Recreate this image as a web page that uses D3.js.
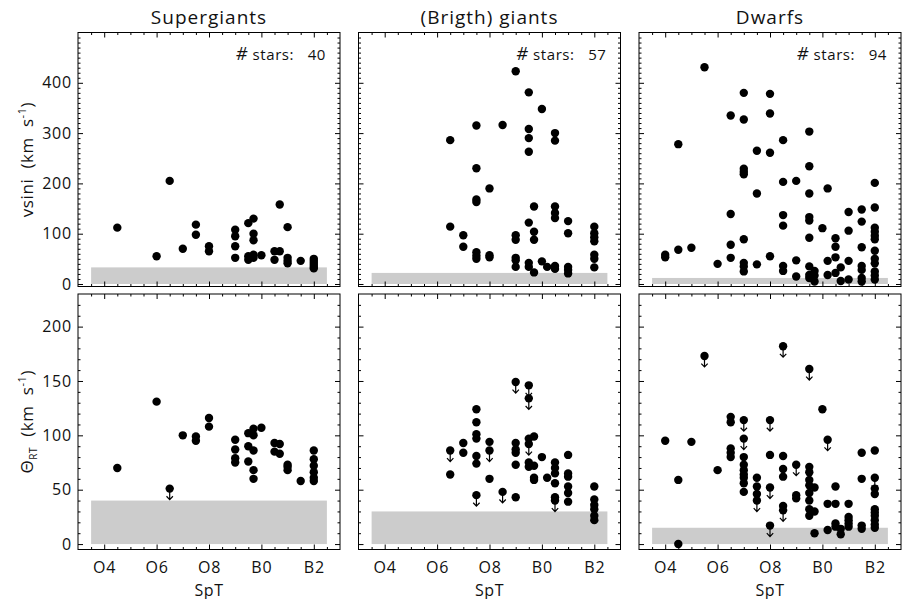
<!DOCTYPE html>
<html>
<head>
<meta charset="utf-8">
<script src="https://cdn.jsdelivr.net/npm/d3@7"></script>
<style>
body { margin: 0; background: #fff; }
text { font-family: "Open Sans", "DejaVu Sans", sans-serif; fill: #111; }
</style>
</head>
<body>
<svg id="chart" width="902" height="599"></svg>
<script>
// luminosity classes (columns)
const classes = ["Supergiants", "(Brigth) giants", "Dwarfs"]
const starCounts = [40, 57, 94]

// spectral type axis: O4=4 ... B0=10, B2=12
const spTicks = [4, 6, 8, 10, 12]
const spLabels = ["O4", "O6", "O8", "B0", "B2"]

// detection limits (grey bands)
const vsiniLimit = [33, 22, 12]
const thetaLimit = [40, 30, 15]

// [SpT, value] ; third entry 1 = upper limit
const sgVsini = [[4.5,112],[6,55],[6.5,205],[7,70],[7.5,118],[7.5,98],[8,75],[8,65],[9,108],[9,95],[9,75],[9,52],
  [9.5,121],[9.5,55],[9.5,48],[9.7,130],[9.7,100],[9.7,87],[9.7,58],[9.7,52],[10,57],[10.5,65],[10.5,48],
  [10.7,158],[10.7,65],[11,113],[11,52],[11,46],[11,41],[11.5,46],[12,50],[12,46],[12,42],[12,38],[12,34],[12,31]]

const giVsini = [[6.5,286],[6.5,114],[7,97],[7,74],[7.5,315],[7.5,230],[7.5,168],[7.5,163],[7.5,63],[7.5,56],[7.5,50],
  [8,190],[8,57],[8,53],[8.5,316],[9,423],[9,97],[9,88],[9,52],[9,47],[9,34],[9.5,381],[9.5,308],[9.5,290],[9.5,263],
  [9.5,122],[9.5,42],[9.5,34],[9.7,154],[9.7,104],[9.7,88],[9.7,23],[10,348],[10,45],[10.2,34],[10.5,300],[10.5,285],
  [10.5,154],[10.5,141],[10.5,131],[10.5,36],[10.5,30],[11,125],[11,101],[11,34],[11,28],[11,21],
  [12,114],[12,101],[12,93],[12,85],[12,58],[12,50],[12,33]]

const dwVsini = [[4,58],[4,53],[4.5,278],[4.5,68],[5,72],[5.5,431],[6,40],[6.5,335],[6.5,139],[6.5,78],[6.5,52],
  [7,380],[7,327],[7,229],[7,223],[7,218],[7,89],[7,42],[7,35],[7,25],[7.5,265],[7.5,180],[7.5,39],
  [8,378],[8,339],[8,261],[8,55],[8.5,286],[8.5,203],[8.5,137],[8.5,116],[8.5,36],[8.5,26],[9,205],[9,47],[9,15],
  [9.5,303],[9.5,234],[9.5,180],[9.5,133],[9.5,126],[9.5,92],[9.5,35],[9.5,18],[9.5,12],[9.7,26],[9.7,17],[9.7,5],
  [10,111],[10.2,190],[10.2,46],[10.2,18],[10.5,91],[10.5,74],[10.5,53],[10.5,22],[10.7,33],[10.7,6],
  [11,143],[11,106],[11,46],[11,9],[11.5,148],[11.5,124],[11.5,73],[11.5,36],[11.5,28],[11.5,12],[11.5,5],
  [12,201],[12,152],[12,112],[12,104],[12,96],[12,89],[12,66],[12,50],[12,41],[12,25],[12,17],[12,9]]

const sgTheta = [[4.5,70],[6,131],[6.5,51,1],[7,100],[7.5,99],[7.5,95],[8,116],[8,108],[9,96],[9,87],[9,79],[9,75],
  [9.5,102],[9.5,90],[9.5,76],[9.7,106],[9.7,100],[9.7,86],[9.7,68],[9.7,60],[10,107],[10.5,93],[10.5,85],
  [10.7,92],[10.7,83],[11,73],[11,71],[11,68],[11.5,58],[12,86],[12,78],[12,72],[12,66],[12,61],[12,58]]

const giTheta = [[6.5,86,1],[6.5,64],[7,93],[7,84],[7.5,124],[7.5,112],[7.5,101],[7.5,97],[7.5,81],[7.5,74],[7.5,45,1],
  [8,94],[8,86,1],[8,60],[8.5,48,1],[9,149,1],[9,93],[9,87],[9,84],[9,73],[9,43],[9.5,146,1],[9.5,134,1],[9.5,97],
  [9.5,92,1],[9.5,75],[9.5,71],[9.7,99],[9.7,72],[9.7,61],[9.7,59],[10,80],[10.2,61],[10.5,75],[10.5,70],[10.5,65],
  [10.5,56],[10.5,43],[10.5,40,1],[11,82],[11,65],[11,62],[11,53],[11,47],[11,39],
  [12,53],[12,41],[12,36],[12,32],[12,26],[12,22]]

const dwTheta = [[4,95],[4.5,59],[4.5,0],[5,94],[5.5,173,1],[6,68],[6.5,117],[6.5,112],[6.5,88],[6.5,84],[6.5,80],
  [7,114,1],[7,97,1],[7,80],[7,73],[7,68],[7,64],[7,61],[7,56],[7,48],[7.5,61],[7.5,53],[7.5,46],[7.5,40,1],
  [8,114,1],[8,82],[8,52,1],[8,17,1],[8.5,182,1],[8.5,81],[8.5,69],[8.5,62],[8.5,35],[8.5,31,1],[9,73,1],[9,45],[9,42],
  [9.5,161,1],[9.5,71],[9.5,66],[9.5,59],[9.5,54],[9.5,47],[9.5,40],[9.5,32],[9.5,26],[9.7,52],[9.7,30],[9.7,10],
  [10,124],[10.2,96,1],[10.2,37],[10.2,13],[10.5,53],[10.5,37],[10.5,19],[10.5,16],[10.7,14],[10.7,9],
  [11,37],[11,25],[11,22],[11,19],[11,16],[11.5,84],[11.5,60],[11.5,17],[11.5,14],
  [12,86],[12,61,1],[12,51],[12,46],[12,32],[12,29],[12,26],[12,22],[12,18],[12,15]]

const svg = d3.select("#chart")

const colX = [78, 358.5, 639]
const panelW = 262
const font = "Open Sans, DejaVu Sans, sans-serif"

const rows = [
  {top: 32.5, h: 254, domain: [-5, 500], major: d3.range(0, 401, 100), minor: d3.range(10, 500, 10),
   data: [sgVsini, giVsini, dwVsini], limit: vsiniLimit, label: "vsini"},
  {top: 294, h: 255.5, domain: [-5, 230], major: d3.range(0, 201, 50), minor: d3.range(10, 230, 10),
   data: [sgTheta, giTheta, dwTheta], limit: thetaLimit, label: "theta"}
]

const x = d3.scaleLinear().domain([3, 13]).range([0, panelW])
const xMinor = d3.range(3.5, 13, 0.5).filter(d => !spTicks.includes(d))

rows.forEach((row, ri) => {
  const y = d3.scaleLinear().domain(row.domain).range([row.h, 0])
  const yMinor = row.minor.filter(d => !row.major.includes(d))

  classes.forEach((cls, ci) => {
    const g = svg.append("g")
      .attr("transform", "translate(" + colX[ci] + ", " + row.top + ")")

    // grey band = detection limit
    g.append("rect")
      .attr("x", x(3.5))
      .attr("width", x(12.5) - x(3.5))
      .attr("y", y(row.limit[ci]))
      .attr("height", y(0) - y(row.limit[ci]))
      .attr("fill", "#cccccc")

    // points
    const pts = g.selectAll("g.pt")
      .data(row.data[ci])
      .enter()
      .append("g")
      .attr("class", "pt")
      .attr("transform", d => "translate(" + x(d[0]) + ", " + y(d[1]) + ")")

    pts.filter(d => d[2] == 1)
      .append("path")
      .attr("d", "M0,0V11M-3.2,7.6L0,11L3.2,7.6")
      .attr("fill", "none")
      .attr("stroke", "#000")
      .attr("stroke-width", 1.2)

    pts.append("circle")
      .attr("r", 4.2)
      .attr("fill", "#000")

    // axes, ticks pointing inwards
    const noLab = () => ""
    const left = d3.axisLeft(y).tickValues(row.major).tickSize(-5).tickPadding(6)
      .tickFormat(ci == 0 ? d3.format("d") : noLab)
    const right = d3.axisRight(y).tickValues(row.major).tickSize(-5).tickFormat(noLab)
    const leftMin = d3.axisLeft(y).tickValues(yMinor).tickSize(-2.5).tickFormat(noLab)
    const rightMin = d3.axisRight(y).tickValues(yMinor).tickSize(-2.5).tickFormat(noLab)
    const bottom = d3.axisBottom(x).tickValues(spTicks).tickSize(-5).tickPadding(12)
      .tickFormat((d, i) => ri == 1 ? spLabels[i] : "")
    const top = d3.axisTop(x).tickValues(spTicks).tickSize(-5).tickFormat(noLab)
    const bottomMin = d3.axisBottom(x).tickValues(xMinor).tickSize(-2.5).tickFormat(noLab)
    const topMin = d3.axisTop(x).tickValues(xMinor).tickSize(-2.5).tickFormat(noLab)

    const axes = [
      [left, 0, 0], [leftMin, 0, 0], [right, panelW, 0], [rightMin, panelW, 0],
      [bottom, 0, row.h], [bottomMin, 0, row.h], [top, 0, 0], [topMin, 0, 0]
    ]
    axes.forEach(a => {
      const ag = g.append("g")
        .attr("transform", "translate(" + a[1] + ", " + a[2] + ")")
        .call(a[0])
      ag.select(".domain").remove()
      ag.selectAll("line").attr("stroke", "#000")
      ag.selectAll("text")
        .attr("font-family", font)
        .attr("font-size", 16)
        .attr("letter-spacing", 0.8)
        .attr("fill", "#111")
    })

    g.append("rect")
      .attr("width", panelW)
      .attr("height", row.h)
      .attr("fill", "none")
      .attr("stroke", "#000")
      .attr("stroke-width", 1)

    if (ri == 0) {
      g.append("text")
        .attr("x", panelW / 2)
        .attr("y", -9)
        .attr("text-anchor", "middle")
        .attr("font-size", 19)
        .attr("letter-spacing", 1)
        .text(cls)

      const st = g.append("text")
        .attr("x", panelW - 14)
        .attr("y", 27)
        .attr("text-anchor", "end")
        .attr("font-size", 15)
        .attr("letter-spacing", 0.6)
        .style("white-space", "pre")
      st.append("tspan").attr("font-size", 18).attr("font-style", "italic").text("#")
      st.append("tspan").text(" stars:   " + starCounts[ci])
    } else {
      g.append("text")
        .attr("x", panelW / 2)
        .attr("y", row.h + 46)
        .attr("text-anchor", "middle")
        .attr("font-size", 16)
        .attr("letter-spacing", 0.5)
        .text("SpT")
    }

    if (ci == 0) {
      const lab = g.append("text")
        .attr("transform", "translate(-45, " + row.h / 2 + ") rotate(-90)")
        .attr("text-anchor", "middle")
        .attr("font-size", 17)
        .attr("letter-spacing", 0.6)
        .style("white-space", "pre")
      if (row.label == "vsini") {
        lab.append("tspan").text("vsini  (km  s")
      } else {
        lab.append("tspan").text("\u0398")
        lab.append("tspan").attr("font-size", 10).attr("dy", 4).text("RT")
        lab.append("tspan").attr("dy", -4).text("  (km  s")
      }
      lab.append("tspan").attr("font-size", 11).attr("dy", -7).text("-1")
      lab.append("tspan").attr("dy", 7).text(")")
    }
  })
})
</script>
</body>
</html>
